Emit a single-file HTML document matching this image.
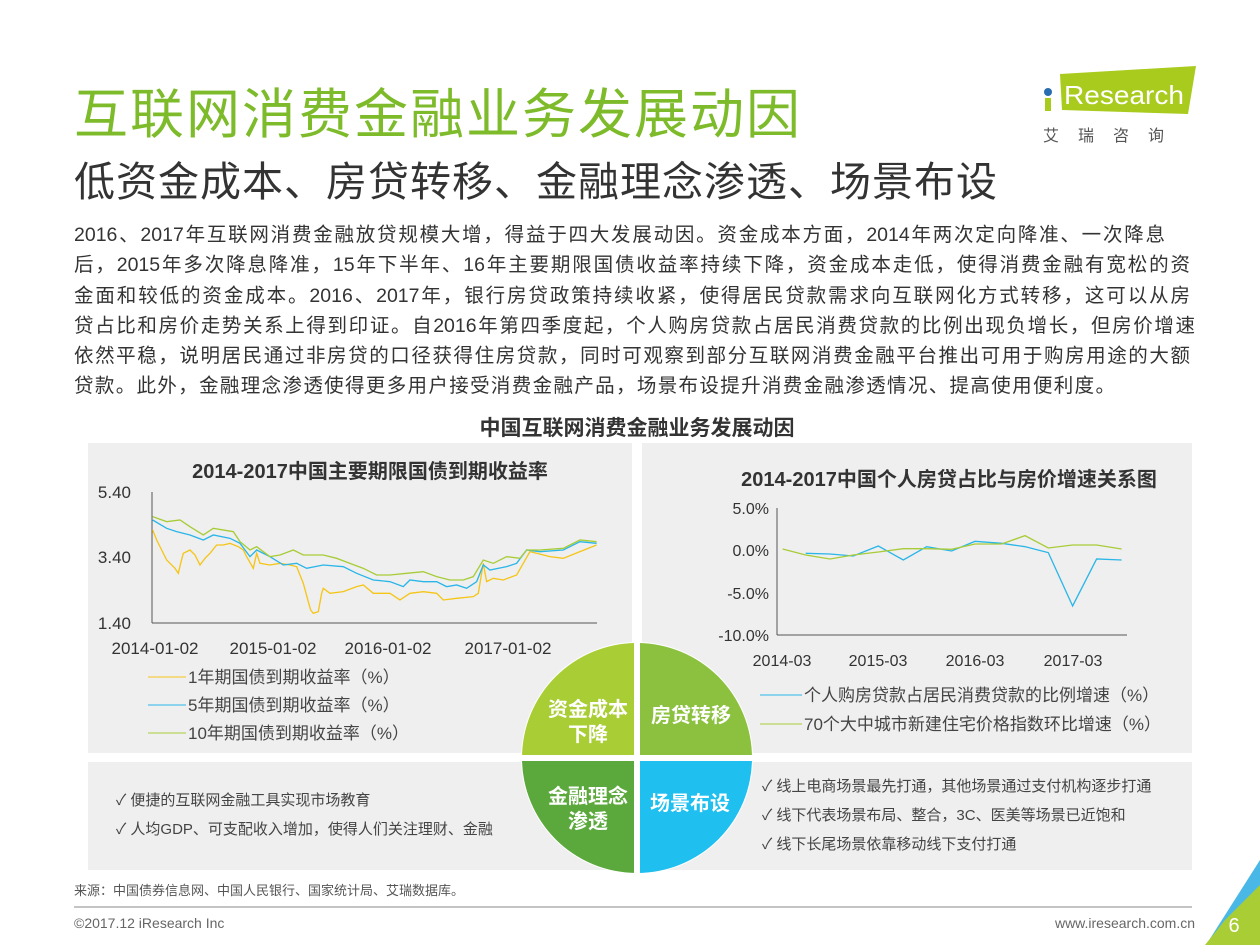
<!DOCTYPE html>
<html><head><meta charset="utf-8"><style>
*{margin:0;padding:0;box-sizing:border-box}
body{width:1260px;height:945px;background:#fff;position:relative;overflow:hidden;font-family:"Liberation Sans","Noto Sans CJK SC",sans-serif;color:#404040}
.a{position:absolute;white-space:nowrap}
.p{position:absolute;left:74px;font-size:19.5px;color:#333;white-space:nowrap;text-align:justify;text-align-last:justify;height:30px;line-height:30px}
</style></head><body>
<div class="a" style="left:74px;top:70px;font-size:54px;color:#7dbb2b;letter-spacing:2px">互联网消费金融业务发展动因</div>
<div class="a" style="left:74px;top:148px;font-size:41px;color:#333;letter-spacing:1px">低资金成本、房贷转移、金融理念渗透、场景布设</div>
<div class="p" style="top:220px;width:1091px">2016、2017年互联网消费金融放贷规模大增，得益于四大发展动因。资金成本方面，2014年两次定向降准、一次降息</div>
<div class="p" style="top:250px;width:1116px">后，2015年多次降息降准，15年下半年、16年主要期限国债收益率持续下降，资金成本走低，使得消费金融有宽松的资</div>
<div class="p" style="top:281px;width:1116px">金面和较低的资金成本。2016、2017年，银行房贷政策持续收紧，使得居民贷款需求向互联网化方式转移，这可以从房</div>
<div class="p" style="top:311px;width:1121px">贷占比和房价走势关系上得到印证。自2016年第四季度起，个人购房贷款占居民消费贷款的比例出现负增长，但房价增速</div>
<div class="p" style="top:341px;width:1116px">依然平稳，说明居民通过非房贷的口径获得住房贷款，同时可观察到部分互联网消费金融平台推出可用于购房用途的大额</div>
<div class="p" style="top:371px;width:1041px">贷款。此外，金融理念渗透使得更多用户接受消费金融产品，场景布设提升消费金融渗透情况、提高使用便利度。</div>
<div class="a" style="left:0;width:1274px;text-align:center;top:412px;font-size:21px;font-weight:bold;color:#333">中国互联网消费金融业务发展动因</div>

<svg class="a" style="left:1040px;top:62px" width="160" height="60"><polygon points="20,12 156,4 148,52 22,48" fill="#a9cb1e"/><circle cx="8" cy="30" r="4" fill="#2a6db0"/><rect x="5" y="36" width="6" height="13" fill="#a9cb1e"/><text x="24" y="42" font-size="26" fill="#fff" font-family="Liberation Sans" textLength="120" lengthAdjust="spacingAndGlyphs">Research</text></svg>
<div class="a" style="left:1043px;top:122px;font-size:16px;color:#555;letter-spacing:19px">艾瑞咨询</div>

<div class="a" style="left:88px;top:443px;width:544px;height:310px;background:#efefef"></div>
<div class="a" style="left:642px;top:443px;width:550px;height:310px;background:#efefef"></div>
<div class="a" style="left:88px;top:762px;width:544px;height:108px;background:#efefef"></div>
<div class="a" style="left:642px;top:762px;width:550px;height:108px;background:#efefef"></div>

<svg class="a" style="left:0;top:0" width="1260" height="945">
<g font-family="Liberation Sans,Noto Sans CJK SC,sans-serif">
<text x="370" y="478" font-size="20" font-weight="bold" fill="#333" text-anchor="middle">2014-2017中国主要期限国债到期收益率</text>
<text x="131" y="498" font-size="17" fill="#333" text-anchor="end">5.40</text>
<text x="131" y="563" font-size="17" fill="#333" text-anchor="end">3.40</text>
<text x="131" y="629" font-size="17" fill="#333" text-anchor="end">1.40</text>
<line x1="152" y1="492" x2="152" y2="623" stroke="#555"/>
<line x1="152" y1="623" x2="597" y2="623" stroke="#555"/>
<g font-size="17" fill="#333" text-anchor="middle"><text x="155" y="654">2014-01-02</text><text x="273" y="654">2015-01-02</text><text x="388" y="654">2016-01-02</text><text x="508" y="654">2017-01-02</text></g>
<g fill="none" transform="translate(90,450) scale(0.3333)">
<polyline stroke="#f5c518" stroke-width="4" points="188,240 200,270 215,300 230,330 240,340 255,355 265,370 272,340 280,310 300,300 315,315 330,345 345,325 360,310 380,285 400,285 420,280 445,290 460,300 470,320 490,355 500,310 510,340 540,345 570,340 600,345 620,350 640,400 655,455 662,480 670,490 685,485 695,430 700,415 720,430 760,425 800,410 820,405 850,430 900,430 930,450 960,430 1000,425 1040,430 1060,450 1100,445 1150,440 1165,430 1180,340 1190,395 1210,385 1240,390 1280,375 1300,340 1320,305 1380,320 1420,325 1470,305 1520,285"/>
<polyline stroke="#2ab6e8" stroke-width="4" points="188,210 230,235 260,245 300,255 340,270 370,255 420,265 450,280 480,320 500,300 540,320 580,345 620,340 650,355 700,345 760,350 800,370 850,390 900,395 940,410 960,390 1000,395 1040,395 1070,410 1100,405 1130,415 1160,395 1180,345 1200,360 1250,350 1280,340 1310,300 1350,305 1420,300 1470,275 1520,280"/>
<polyline stroke="#a8cc38" stroke-width="4" points="188,200 230,215 270,210 300,230 340,255 370,235 430,245 450,275 480,300 500,290 540,320 570,315 610,300 640,315 700,315 740,325 780,340 820,355 860,375 900,375 950,370 1000,365 1040,380 1080,390 1120,390 1150,380 1180,330 1210,340 1250,320 1290,325 1310,300 1350,300 1420,295 1470,270 1520,275"/>
</g>
<line x1="148" y1="677" x2="186" y2="677" stroke="#f5c518"/>
<line x1="148" y1="705" x2="186" y2="705" stroke="#2ab6e8"/>
<line x1="148" y1="733" x2="186" y2="733" stroke="#a8cc38"/>
<g font-size="17" fill="#444"><text x="188" y="683">1年期国债到期收益率（%）</text><text x="188" y="711">5年期国债到期收益率（%）</text><text x="188" y="739">10年期国债到期收益率（%）</text></g>

<text x="949" y="486" font-size="20" font-weight="bold" fill="#333" text-anchor="middle">2014-2017中国个人房贷占比与房价增速关系图</text>
<g font-size="16" fill="#333" text-anchor="end"><text x="769" y="514">5.0%</text><text x="769" y="556">0.0%</text><text x="769" y="599">-5.0%</text><text x="769" y="641">-10.0%</text></g>
<line x1="777" y1="508" x2="777" y2="635" stroke="#555"/>
<line x1="777" y1="635" x2="1127" y2="635" stroke="#555"/>
<g font-size="16" fill="#333" text-anchor="middle"><text x="782" y="666">2014-03</text><text x="878" y="666">2015-03</text><text x="975" y="666">2016-03</text><text x="1073" y="666">2017-03</text></g>
<g fill="none" transform="translate(640,450) scale(0.3333)">
<polyline stroke="#2ab6e8" stroke-width="4" points="497,310 570,312 640,318 715,288 790,330 860,290 935,303 1005,274 1085,280 1155,290 1225,308 1298,468 1370,327 1445,330"/>
<polyline stroke="#a8cc38" stroke-width="4" points="428,297 497,315 570,327 640,315 715,306 790,296 860,296 935,298 1005,282 1085,282 1155,257 1225,294 1298,285 1370,285 1445,297"/>
</g>
<line x1="760" y1="695" x2="802" y2="695" stroke="#2ab6e8"/>
<line x1="760" y1="724" x2="802" y2="724" stroke="#a8cc38"/>
<g font-size="17" fill="#444"><text x="804" y="701">个人购房贷款占居民消费贷款的比例增速（%）</text><text x="804" y="730">70个大中城市新建住宅价格指数环比增速（%）</text></g>

<g font-size="15" fill="#444"><text x="116" y="805">✓  便捷的互联网金融工具实现市场教育</text><text x="116" y="834">✓  人均GDP、可支配收入增加，使得人们关注理财、金融</text>
<text x="762" y="791">✓  线上电商场景最先打通，其他场景通过支付机构逐步打通</text><text x="762" y="820">✓  线下代表场景布局、整合，3C、医美等场景已近饱和</text><text x="762" y="849">✓  线下长尾场景依靠移动线下支付打通</text></g>

<circle cx="637" cy="758" r="116" fill="#fff"/>
<path d="M637,758 L522,758 A115,115 0 0 1 637,643 Z" fill="#a9cd34"/>
<path d="M637,758 L637,643 A115,115 0 0 1 752,758 Z" fill="#8cc13f"/>
<path d="M637,758 L522,758 A115,115 0 0 0 637,873 Z" fill="#5ba93c"/>
<path d="M637,758 L752,758 A115,115 0 0 1 637,873 Z" fill="#1fbfef"/>
<line x1="637" y1="640" x2="637" y2="876" stroke="#fff" stroke-width="6"/>
<line x1="519" y1="758" x2="755" y2="758" stroke="#fff" stroke-width="6"/>
<g font-size="20" font-weight="bold" fill="#fff" text-anchor="middle"><text x="588" y="716">资金成本</text><text x="588" y="741">下降</text><text x="691" y="722">房贷转移</text><text x="588" y="803">金融理念</text><text x="588" y="828">渗透</text><text x="690" y="810">场景布设</text></g>

<text x="74" y="895" font-size="13" fill="#555">来源：中国债券信息网、中国人民银行、国家统计局、艾瑞数据库。</text>
<line x1="74" y1="907" x2="1192" y2="907" stroke="#888"/>
<text x="74" y="928" font-size="14" fill="#666">©2017.12 iResearch Inc</text>
<text x="1195" y="928" font-size="14" fill="#666" text-anchor="end">www.iresearch.com.cn</text>
<polygon points="1260,860 1260,945 1206,945" fill="#4ab8e6"/>
<polygon points="1260,885 1260,945 1205,945 1225,920" fill="#a9cd34"/>
<text x="1234" y="932" font-size="20" fill="#fff" text-anchor="middle">6</text>
</g></svg>
</body></html>
